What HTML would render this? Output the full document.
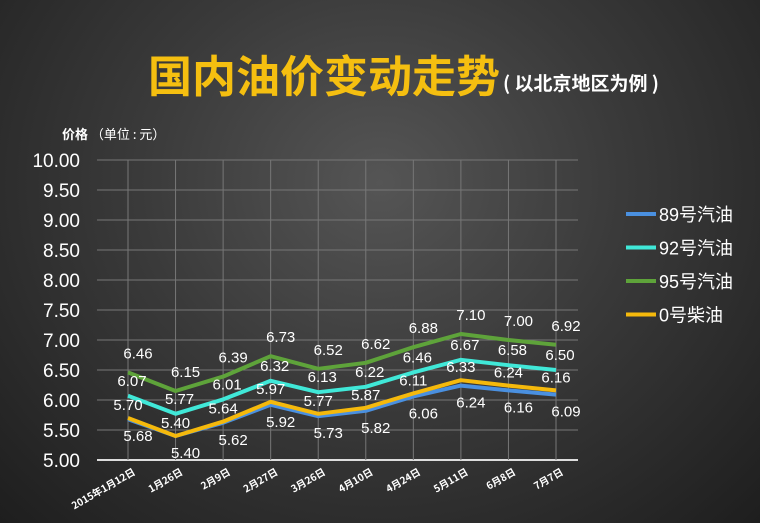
<!DOCTYPE html>
<html><head><meta charset="utf-8"><style>
html,body{margin:0;padding:0}
body{width:760px;height:523px;overflow:hidden;background:radial-gradient(ellipse at 50% 35%,#555 0%,#3a3a3a 45%,#1e1e1e 100%);font-family:"Liberation Sans","Noto Sans CJK SC",sans-serif;}
</style></head><body>
<svg id="chart" width="760" height="523" xmlns="http://www.w3.org/2000/svg" style="position:absolute;left:0;top:0">
<text x="148" y="92" font-size="44" font-weight="bold" fill="#f5bf10" font-family="'Noto Sans CJK SC',sans-serif">国内油价变动走势</text>
<text x="503" y="90" font-size="19" font-weight="bold" fill="#fff" font-family="'Noto Sans CJK SC',sans-serif">( 以北京地区为例 )</text>
<text x="62" y="139" font-size="13" fill="#fff" font-family="'Noto Sans CJK SC',sans-serif"><tspan font-weight="bold">价格</tspan> （单位 : 元）</text>
<g id="grid"></g><g id="axes"></g><g id="series"></g><g id="labels"></g><g id="legend"></g>
</svg>
<script>
const categories=["2015年1月12日","1月26日","2月9日","2月27日","3月26日","4月10日","4月24日","5月11日","6月8日","7月7日"];
const s89=[5.68,5.40,5.62,5.92,5.73,5.82,6.06,6.24,6.16,6.09];
const s92=[6.07,5.77,6.01,6.32,6.13,6.22,6.46,6.67,6.58,6.50];
const s95=[6.46,6.15,6.39,6.73,6.52,6.62,6.88,7.10,7.00,6.92];
const s0=[5.70,5.40,5.64,5.97,5.77,5.87,6.11,6.33,6.24,6.16];
const yTicks=["5.00","5.50","6.00","6.50","7.00","7.50","8.00","8.50","9.00","9.50","10.00"];
const NS="http://www.w3.org/2000/svg";
const yMin=5,yMax=10,yTop=160,yBot=460,xL=97,xR=578,x0=128,x1=556;
function y(v){return yBot-(v-yMin)/(yMax-yMin)*(yBot-yTop);}
function x(i){return x0+i*(x1-x0)/(categories.length-1);}
function mk(t,a,p){const e=document.createElementNS(NS,t);for(const k in a)e.setAttribute(k,a[k]);p.appendChild(e);return e;}
const grid=document.getElementById('grid'),axes=document.getElementById('axes');
yTicks.forEach(t=>{const v=parseFloat(t);
 const l=mk('line',{x1:xL,x2:xR,y1:y(v),y2:y(v),stroke:v===yMin?'#ddd':'#777','stroke-width':v===yMin?2:1},grid);
 
 
 const tx=mk('text',{x:80,y:y(v)+7,'font-size':19,fill:'#fff','text-anchor':'end'},axes);
 tx.textContent=t;
 
 
});
categories.forEach((c,i)=>{
 const l=mk('line',{x1:x(i),x2:x(i),y1:yTop,y2:yBot,stroke:'#777','stroke-width':1},grid);
 
 
 const tx=mk('text',{x:x(i)+8,y:yBot+14,'font-size':10,'font-weight':'bold',fill:'#fff','text-anchor':'end',transform:`rotate(-30 ${x(i)+8} ${yBot+14})`,'font-family':"'Noto Sans CJK SC',sans-serif"},axes);
 tx.textContent=c;
 
 
});
const series=[
 {n:'95号汽油',d:s95,c:'#5ea33a',dy:-14,dx:10,id:'series-95'},
 {n:'92号汽油',d:s92,c:'#40e8d8',dy:-10,dx:4,id:'series-92'},
 {n:'89号汽油',d:s89,c:'#4a90e0',dy:22,dx:10,id:'series-89'},
 {n:'0号柴油',d:s0,c:'#f5b90c',dy:-8,dx:0,id:'series-0'}];
const sg=document.getElementById('series'),lg=document.getElementById('labels');
[series[2],series[1],series[0],series[3]].forEach(s=>{
 const p=mk('polyline',{points:s.d.map((v,i)=>x(i)+','+y(v)).join(' '),fill:'none',stroke:s.c,'stroke-width':4,'stroke-linejoin':'round'},sg);
 
 
});
series.forEach(s=>{s.d.forEach((v,i)=>{
 const t=mk('text',{x:x(i)+s.dx,y:y(v)+s.dy,'font-size':15,fill:'#fff','text-anchor':'middle'},lg);
 t.textContent=v.toFixed(2);
 
 
});});
const leg=document.getElementById('legend');
[series[2],series[1],series[0],series[3]].forEach((s,k)=>{
 const yy=214+k*33.5;
 const g=mk('g',{},leg);
 
 
 mk('line',{x1:626,x2:656,y1:yy,y2:yy,stroke:s.c,'stroke-width':4},g);
 const t=mk('text',{x:659,y:yy+7,'font-size':18,fill:'#fff','font-family':"'Liberation Sans','Noto Sans CJK SC',sans-serif"},g);
 t.textContent=s.n;
});
</script>
</body></html>
